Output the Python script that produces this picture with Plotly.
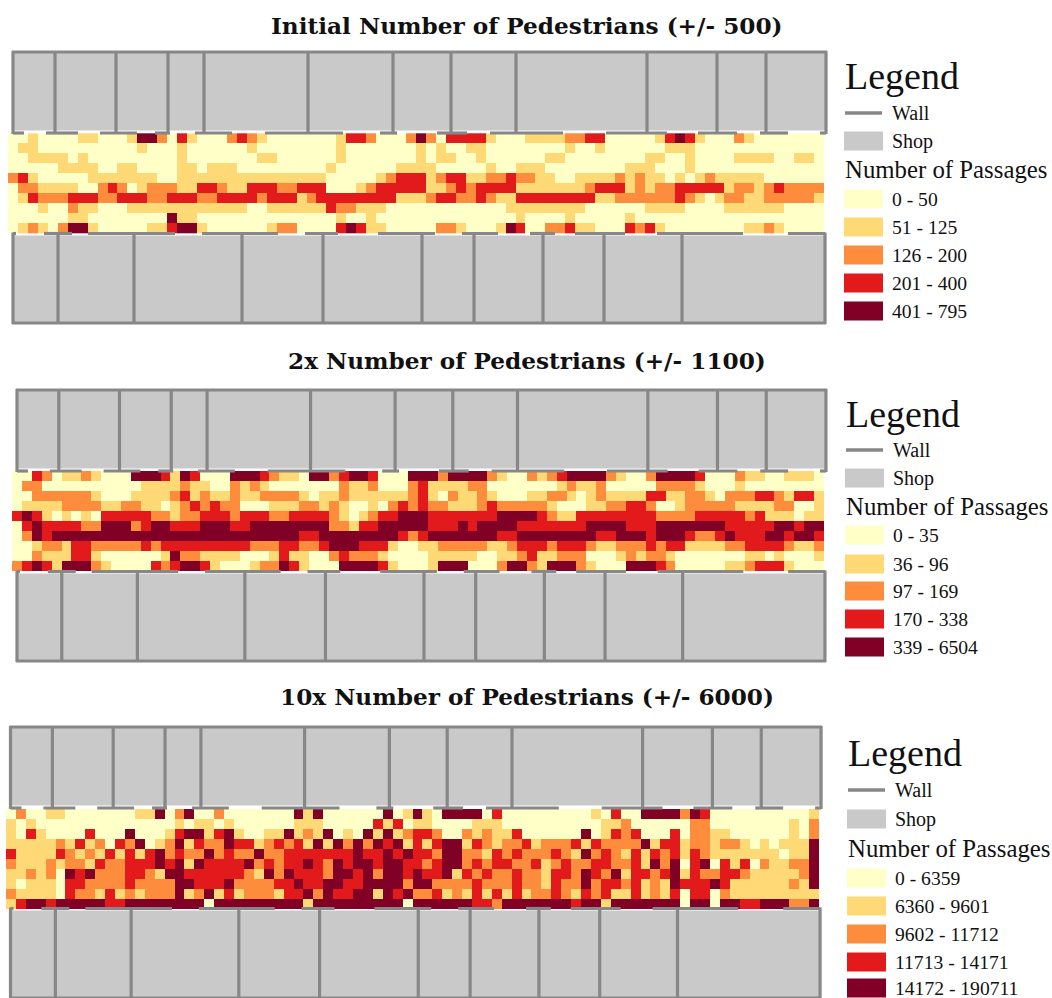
import plotly.graph_objects as go

# Passage classes per street cell (0-4), 10 rows x 82 columns
initial_rows = [
 "0010000110 0014420310 0023210000 0001332000 2420333310 0011112233 0000013431 000210000000",
 "0110000000 0001000100 0000100000 0001000000 0101001100 0000001001 0000001110 000000000000",
 "0011110100 0000000100 0000011000 0001000000 0101100100 0000110000 0000110010 000111100110",
 "0000011110 0110000110 1110000000 0010000001 1110000010 0111000000 0011100010 000000000000",
 "2310000011 1111100111 1111111111 1100000123 3312331122 3221100111 1212110101 211111000000",
 "0221111002 3201222113 3211333223 3300012333 3311232333 3111111123 3312122333 331221232222",
 "0132223332 2333223332 2333323331 2333333331 1123322321 1333333331 1222222321 012211222221",
 "0001002110 0011111111 1111001111 1132211100 0000000000 1111111100 0000111100 001111110000",
 "0000001100 0000004110 0000000000 0001001000 0000000000 0100001000 0010000000 000000000000",
 "0121024410 0000113441 0000001220 0003431100 0002210001 4300223110 0032310000 000011210000",
]
double_rows = [
 "0032011210 0044431430 0044432110 4423443000 4442444421 0021234444 2100244443 000211001110",
 "0220000000 0001111211 0021210000 0002112000 2311112200 0000012112 0000022221 000100000000",
 "0022222210 0011112312 1121122221 0112111111 2310211210 0011221012 1111331122 102223321331",
 "0111122221 1221101232 3220001112 2121001023 2322111232 2222100011 2233200122 222111122001",
 "3431010103 3333221223 3323332233 3321012334 4433333334 4443211333 3333322223 333323111011",
 "0343333224 4423443334 4433444444 4422133444 4433343444 4333333344 4433344444 443333344344",
 "0243444444 4444444444 4444444443 3444444443 2344444443 3444444443 3444344432 234333443443",
 "0012213322 2223233333 3333222332 2344433310 0112222211 2333233321 1222323311 112233332112",
 "0021113310 0000014221 1110001311 0023222100 0011111001 1231122200 0121221000 000011010001",
 "2343144421 0000323443 1000122431 0004444310 0014440002 4421444210 0044432000 001123331000",
]
tenfold_rows = [
 "0200110000 0001140240 0200000004 1400000040 1410444403 0000000001 0300444424 300000000001",
 "1010000000 0000000101 1010000001 1100000313 0110000111 0000000000 1120000002 200000000102",
 "1031000030 0040001344 1341001141 2140104141 2332002121 1300000040 1323000302 211000000102",
 "1111121312 0324012413 2243312323 1414242434 1313441321 2231222313 2222413312 212210101114",
 "3111132121 3131342322 4232242233 3333343343 4332442213 2322232142 3213132313 211111110114",
 "2111212213 2233343414 3333423233 4324344344 3323442323 3223123223 3223142403 403130211224",
 "1121204342 2233214433 3333214243 3324434244 3433413232 2322133243 2413323413 223321111124",
 "1011103322 2232222443 3342222334 3344334444 2442222322 2322132242 3323121433 343111111214",
 "2111103221 3121222412 4131222133 4243344143 4223121313 1312232132 3113121303 302111111111",
 "1344344444 3344444444 0444444444 1444444444 0444444332 4444444344 1444444404 404433444224",
]

titles = ["Initial Number of Pedestrians (+/- 500)",
          "2x Number of Pedestrians (+/- 1100)",
          "10x Number of Pedestrians (+/- 6000)"]
legend_initial = ["0 - 50", "51 - 125", "126 - 200", "201 - 400", "401 - 795"]
legend_double = ["0 - 35", "36 - 96", "97 - 169", "170 - 338", "339 - 6504"]
legend_tenfold = ["0 - 6359", "6360 - 9601", "9602 - 11712", "11713 - 14171", "14172 - 190711"]

class_colors = ["#ffffc8", "#fed976", "#fd8d3c", "#e31a1c", "#800026"]
SHOP = "#c9c9c9"
WALL = "#878787"
SERIF = "Liberation Serif"

# Plan of the street, in the pixel frame of the first map
top_dividers = [13, 55, 116, 168, 204, 308, 393, 451, 516, 647, 717, 766, 826]
bottom_dividers = [13, 58, 134, 242, 323, 422, 474, 543, 604, 682, 825]
top_wall_runs = [(13, 24), (46, 78), (100, 137), (155, 170), (195, 232), (265, 343),
                 (380, 397), (437, 467), (490, 563), (606, 667), (698, 737), (760, 788), (820, 826)]
bottom_wall_runs = [(13, 16), (44, 72), (88, 175), (202, 278), (305, 338), (378, 435),
                    (462, 498), (530, 555), (575, 625), (657, 743), (788, 825)]

maps = [
    dict(rows=initial_rows, labels=legend_initial, title_y=25, x0=8, x1=824, y0=133.3, y1=233.3,
         plan_x=13, plan_sx=1.0, plan_dy=0, leg_x=844, leg_ys=[76, 113, 141, 169, 199, 227, 255, 283, 311]),
    dict(rows=double_rows, labels=legend_double, title_y=360, x0=12, x1=824, y0=471, y1=570.5,
         plan_x=17, plan_sx=0.995, plan_dy=338, leg_x=845, leg_ys=[414, 450, 478, 506, 535, 564, 591, 619, 647]),
    dict(rows=tenfold_rows, labels=legend_tenfold, title_y=696, x0=6, x1=819, y0=809, y1=908.5,
         plan_x=10.5, plan_sx=0.997, plan_dy=675, leg_x=847, leg_ys=[753, 790, 819, 848, 878, 906, 934, 962, 988]),
]

fig = go.Figure()
shapes, notes = [], []


def note(x, y, text, size, anchor="left", bold=False, family=SERIF, height=None):
    notes.append(dict(x=x, y=y, text=f"<b>{text}</b>" if bold else text, showarrow=False,
                      xanchor=anchor, yanchor="middle", xref="x", yref="y", borderpad=0, height=height,
                      font=dict(family=family, size=size, color="#111111")))


scale = []
for i, c in enumerate(class_colors):
    scale += [[i / 5, c], [(i + 1) / 5, c]]

for n, m in enumerate(maps):
    grid = [[int(c) for c in r.replace(" ", "")] for r in m["rows"]]
    assert all(len(r) == 82 for r in grid)
    dx = (m["x1"] - m["x0"]) / 82
    dy = (m["y1"] - m["y0"]) / 10
    fig.add_trace(go.Heatmap(
        z=grid, x0=m["x0"] + dx / 2, dx=dx, y0=m["y0"] + dy / 2, dy=dy,
        zmin=-0.5, zmax=4.5, showscale=False, hoverinfo="skip", colorscale=scale,
    ))

    px = lambda v: m["plan_x"] + (v - 13) * m["plan_sx"]
    d = m["plan_dy"]
    top_a, top_b = 52 + d, 133 + d
    bot_a, bot_b = 233.5 + d, 323 + d

    def wall(x_a, y_a, x_b, y_b):
        shapes.append(dict(type="line", x0=x_a, y0=y_a, x1=x_b, y1=y_b, layer="above",
                           line=dict(color=WALL, width=3.2)))

    for dividers, a, b, fa, fb in ((top_dividers, top_a, top_b, top_a, top_b - 2.5),
                                   (bottom_dividers, bot_a, bot_b, bot_a + 2, bot_b)):
        for l, r in zip(dividers[:-1], dividers[1:]):
            shapes.append(dict(type="rect", x0=px(l), x1=px(r), y0=fa, y1=fb, layer="below",
                               fillcolor=SHOP, line=dict(width=0)))
        for v in dividers:
            wall(px(v), a - 1, px(v), b + 1)
        outer = bot_b if a == bot_a else a
        wall(px(dividers[0]) - 1, outer, px(dividers[-1]) + 1, outer)
    for l, r in top_wall_runs:
        wall(px(l), top_b, px(r), top_b)
    for l, r in bottom_wall_runs:
        wall(px(l), bot_a, px(r), bot_a)

    note(527, m["title_y"], titles[n], 23.2, "center", True, "DejaVu Serif")
    lx, ys = m["leg_x"], m["leg_ys"]
    note(lx, ys[0], "Legend", 38)
    shapes.append(dict(type="line", x0=lx + 1, x1=lx + 38, y0=ys[1], y1=ys[1],
                       line=dict(color=WALL, width=3.5)))
    note(lx + 47, ys[1], "Wall", 20)
    shapes.append(dict(type="rect", x0=lx, x1=lx + 39, y0=ys[2] - 9.5, y1=ys[2] + 9.5,
                       fillcolor=SHOP, line=dict(width=0)))
    note(lx + 47, ys[2], "Shop", 20)
    note(lx, ys[3], "Number of Passages", 24.8)
    for i, label in enumerate(m["labels"]):
        shapes.append(dict(type="rect", x0=lx, x1=lx + 39, y0=ys[4 + i] - 9.5, y1=ys[4 + i] + 9.5,
                           fillcolor=class_colors[i], line=dict(width=0)))
        note(lx + 47, ys[4 + i], label, 19.6, height=20)

fig.update_layout(
    width=1052, height=998, margin=dict(l=0, r=0, t=0, b=0),
    paper_bgcolor="white", plot_bgcolor="white", showlegend=False,
    xaxis=dict(range=[0, 1052], visible=False, fixedrange=True),
    yaxis=dict(range=[998, 0], visible=False, fixedrange=True),
    shapes=shapes, annotations=notes,
)
fig.write_html("out.html", config=dict(displayModeBar=False),
               post_script="document.body.style.margin='0';document.documentElement.style.overflow='hidden';")
